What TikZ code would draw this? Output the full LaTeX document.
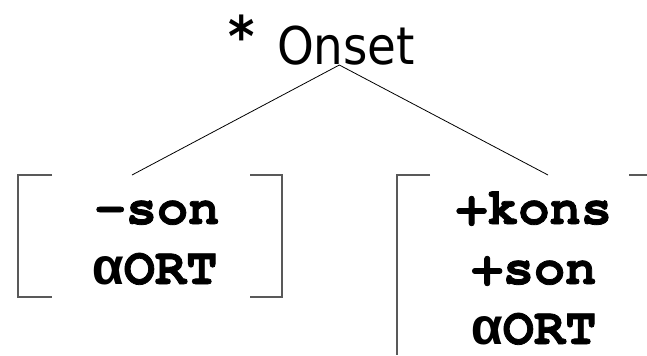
\documentclass[tikz,border=0pt]{standalone}
\usepackage{fontspec}
\usepackage{tikz}
\usetikzlibrary{calc}
\setmonofont{TeX Gyre Cursor}[BoldFeatures={FakeBold=1.5}]
\newfontfamily\onsetfont{DejaVu Sans Condensed}
\newfontfamily\greekfont{Liberation Mono}
\newcommand{\al}{{\greekfont α}}

\begin{document}
\begin{tikzpicture}[x=0.75pt, y=-0.75pt,
	bracket/.style={line width=0.9pt, color=black!65},
	branch/.style={line width=0.6pt, color=black},
	feat/.style={inner sep=0, anchor=base, font=\ttfamily\bfseries\fontsize{39}{45}\selectfont},
	head/.style={inner sep=0, anchor=base, font=\onsetfont\fontsize{39}{45}\selectfont}]
			%%%%% START %%%%%
			\useasboundingbox (0, 0) rectangle (647, 355);
			
			\node[head, font=\onsetfont\bfseries\fontsize{42}{45}\selectfont] (star) at (242, 56) {*};
			\node[head] (onset) at (346, 64) {Onset};
			\coordinate (apex) at ([xshift=-5]onset.south);
			
			\node[feat] (lson) at (157, 224) {-son};
			\node[feat] (lort) at (155, 284) {\al ORT};
			\node[feat] (rkons) at (534, 224) {+kons};
			\node[feat] (rson) at (534, 284) {+son};
			\node[feat] (rort) at (534, 344) {\al ORT};
			
			\coordinate (lend) at (132, 175);
			\coordinate (rend) at (548, 175);
			\draw[branch] (lend) -- (apex) -- (rend);
			
			\draw[bracket] (52, 175) -- (18, 175) -- (18, 297) -- (52, 297);
			\draw[bracket] (250, 175) -- (282, 175) -- (282, 297) -- (250, 297);
			
			\draw[bracket] (430, 175) -- (397, 175) -- (397, 355);
			\draw[bracket] (629, 175) -- (647, 175);
			
			%%%%% END %%%%%
\end{tikzpicture}
\end{document}
